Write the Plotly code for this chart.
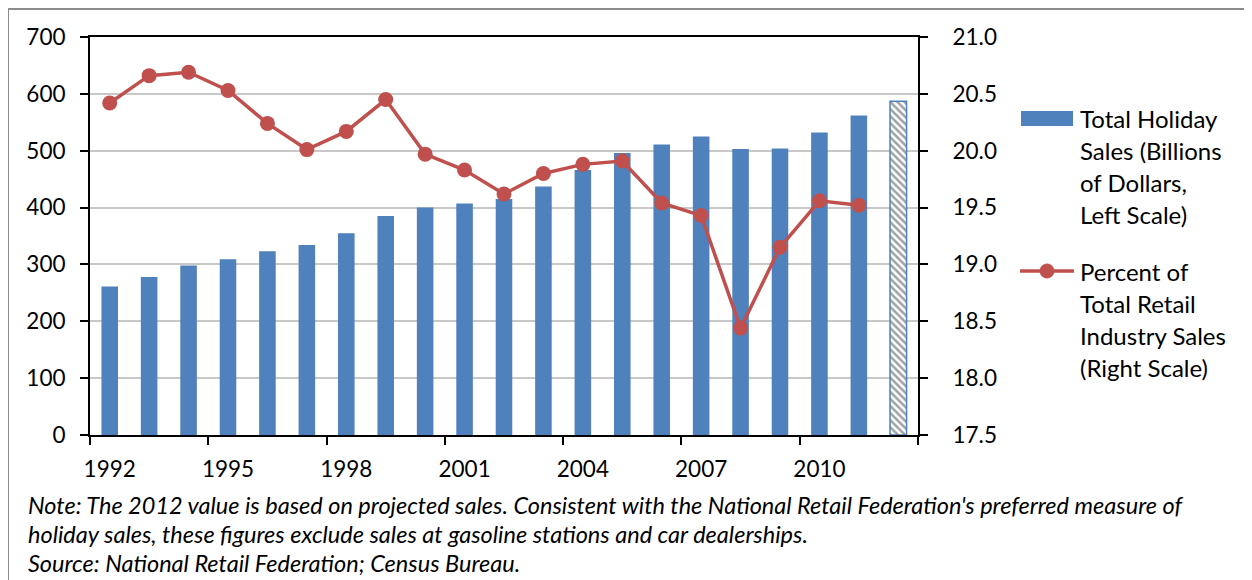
import plotly.graph_objects as go

# ------------------ Dados ------------------ #

anos = list(range(1992, 2013))

vendas_feriado = [
    261, 278, 298, 309, 323, 334, 355, 385, 400, 407, 415,
    437, 466, 496, 511, 525, 503, 504, 532, 562, 587,
]

anos_pct = list(range(1992, 2012))
pct_varejo = [
    20.42, 20.66, 20.69, 20.53, 20.24, 20.01, 20.17, 20.45, 19.97, 19.83,
    19.62, 19.80, 19.88, 19.91, 19.54, 19.43, 18.44, 19.15, 19.56, 19.52,
]

rotulos_x = ["1992", "1995", "1998", "2001", "2004", "2007", "2010"]
ticks_esq = [0, 100, 200, 300, 400, 500, 600, 700]
ticks_dir = [17.5, 18.0, 18.5, 19.0, 19.5, 20.0, 20.5, 21.0]

legenda_barras = ["Total Holiday", "Sales (Billions", "of Dollars,", "Left Scale)"]
legenda_linha = ["Percent of", "Total Retail", "Industry Sales", "(Right Scale)"]
nota = [
    "Note: The 2012 value is based on projected sales. Consistent with the National "
    "Retail Federation's preferred measure of",
    "holiday sales, these figures exclude sales at gasoline stations and car dealerships.",
    "Source: National Retail Federation; Census Bureau.",
]

AZUL = "#4F81BD"
VERMELHO = "#C0504D"
FONTE = "Lato, 'Open Sans', sans-serif"

# a pagina tem 8px de margem no body: a figura comeca em (8, 8)
OFF = 8
X0, X1, Y0, Y1 = 90, 918, 37, 435  # area do grafico em px da pagina


def px(x):
    return (x - X0) / (X1 - X0)


def py(y):
    return (Y1 - y) / (Y1 - Y0)


# 2012 e projecao -> barra hachurada
cores = [AZUL] * (len(anos) - 1) + ["white"]
padroes = [""] * (len(anos) - 1) + ["\\"]
larg_borda = [0] * (len(anos) - 1) + [1.5]

# ------------------ Figura ------------------ #

fig = go.Figure()
fig.add_trace(
    go.Bar(
        x=anos,
        y=vendas_feriado,
        name="Total Holiday Sales (Billions of Dollars, Left Scale)",
        width=0.42,
        marker=dict(
            color=cores,
            line=dict(color=AZUL, width=larg_borda),
            pattern=dict(shape=padroes, fgcolor=AZUL, size=5, solidity=0.5),
        ),
    )
)
fig.add_trace(
    go.Scatter(
        x=anos_pct,
        y=pct_varejo,
        name="Percent of Total Retail Industry Sales (Right Scale)",
        yaxis="y2",
        mode="lines+markers",
        line=dict(color=VERMELHO, width=3.5),
        marker=dict(color=VERMELHO, size=15),
    )
)

anotacoes = []
for i, linha in enumerate(legenda_barras):
    anotacoes.append(dict(text=linha, x=px(1078), y=py(118 + 32 * i)))
for i, linha in enumerate(legenda_linha):
    anotacoes.append(dict(text=linha, x=px(1078), y=py(271 + 32.3 * i)))
for a in anotacoes:
    a.update(xref="paper", yref="paper", xanchor="left", yanchor="middle",
             showarrow=False, font=dict(size=24))
for i, linha in enumerate(nota):
    anotacoes.append(
        dict(text="<i>" + linha + "</i>", x=px(26), y=py(505 + 29 * i),
             xref="paper", yref="paper", xanchor="left", yanchor="middle",
             showarrow=False, font=dict(size=23.5))
    )

formas = [
    # moldura cinza (topo e esquerda)
    dict(type="line", xref="paper", yref="paper",
         x0=px(OFF), x1=px(1260), y0=py(OFF + 1), y1=py(OFF + 1),
         line=dict(color="#8C8C8C", width=2)),
    dict(type="line", xref="paper", yref="paper",
         x0=px(OFF), x1=px(OFF), y0=py(OFF), y1=py(600),
         line=dict(color="#8C8C8C", width=2)),
    # simbolos da legenda
    dict(type="rect", xref="paper", yref="paper",
         x0=px(1021), x1=px(1073), y0=py(126), y1=py(111),
         fillcolor=AZUL, line=dict(width=0)),
    dict(type="line", xref="paper", yref="paper",
         x0=px(1020), x1=px(1074), y0=py(271), y1=py(271),
         line=dict(color=VERMELHO, width=3.5)),
    dict(type="circle", xref="paper", yref="paper",
         x0=px(1040), x1=px(1054), y0=py(278), y1=py(264),
         fillcolor=VERMELHO, line=dict(color=VERMELHO, width=1)),
]

fig.update_layout(
    width=1252 - OFF,
    height=580 - OFF,
    margin=dict(l=X0 - OFF, r=1252 - X1, t=Y0 - OFF, b=580 - Y1, autoexpand=False),
    paper_bgcolor="white",
    plot_bgcolor="white",
    font=dict(family=FONTE, size=22.5, color="black"),
    showlegend=False,
    xaxis=dict(
        range=[1991.5, 2012.5],
        tickvals=[int(r) for r in rotulos_x],
        ticktext=rotulos_x,
        ticks="",
        ticklabelstandoff=13,
        showgrid=False,
        showline=True,
        linecolor="black",
        linewidth=2,
        mirror=True,
        zeroline=False,
        minor=dict(
            tickvals=[1991.5 + 3 * i for i in range(8)],
            ticks="outside",
            ticklen=8,
            tickcolor="black",
            tickwidth=2,
            showgrid=False,
        ),
    ),
    yaxis=dict(
        range=[0, 700],
        tickvals=ticks_esq,
        ticks="outside",
        ticklen=8,
        tickwidth=2,
        tickcolor="black",
        ticklabelstandoff=10,
        showline=True,
        linecolor="black",
        linewidth=2,
        showgrid=True,
        gridcolor="#C8C8C8",
        gridwidth=1.5,
        zeroline=False,
    ),
    yaxis2=dict(
        range=[17.5, 21.0],
        tickvals=ticks_dir,
        tickformat=".1f",
        overlaying="y",
        side="right",
        ticks="outside",
        ticklen=8,
        tickwidth=2,
        tickcolor="black",
        ticklabelstandoff=20,
        showline=True,
        linecolor="black",
        linewidth=2,
        showgrid=False,
        zeroline=False,
    ),
    annotations=anotacoes,
    shapes=formas,
)

fig.write_html("out.html")
